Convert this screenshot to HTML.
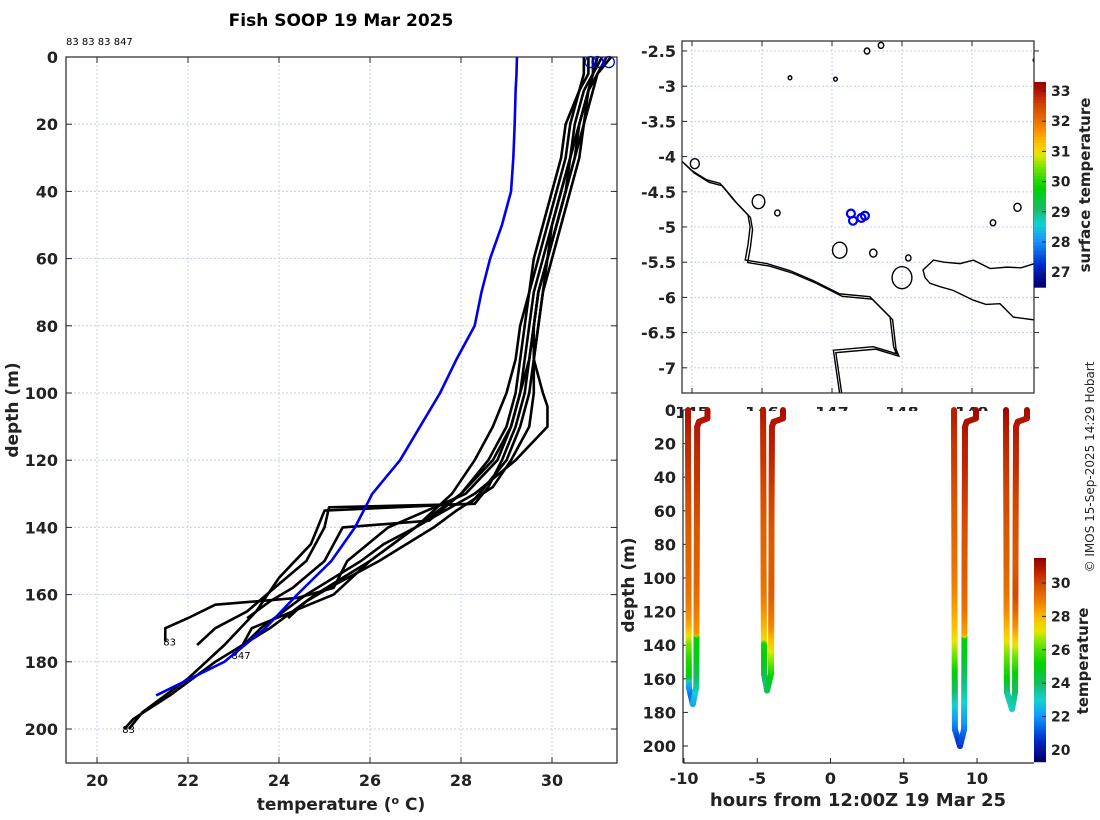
<!DOCTYPE html>
<html><head><meta charset="utf-8">
<style>
body{margin:0;background:#fff;}
svg{display:block;font-family:"DejaVu Sans","Liberation Sans",sans-serif;}
.tk{font-size:16px;font-weight:bold;fill:#222;}
.lb{font-size:17px;font-weight:bold;fill:#222;}
</style></head><body>
<svg id="fig" width="1100" height="820" viewBox="0 0 1100 820">
<rect width="1100" height="820" fill="#fff"/>
<g id="left"></g>
<g id="map"></g>
<g id="bot"></g>
<text x="341" y="26" text-anchor="middle" style="font-size:17px;font-weight:bold">Fish SOOP 19 Mar 2025</text>
<text x="66" y="45" style="font-size:10px">83 83 83 847</text>
<text transform="translate(18,410) rotate(-90)" text-anchor="middle" class="lb">depth (m)</text>
<text x="341" y="810" text-anchor="middle" class="lb">temperature (<tspan dy="-6" font-size="11">o</tspan><tspan dy="6"> C)</tspan></text>
<text transform="translate(1094,467) rotate(-90)" text-anchor="middle" style="font-size:12px;fill:#262626">© IMOS 15-Sep-2025 14:29 Hobart</text>
</svg>
<script>
// ---------- data ----------
const xTicks=[20,22,24,26,28,30];
const dTicks=[0,20,40,60,80,100,120,140,160,180,200];
const climDepth=[0,5,10,20,30,40,50,60,70,80,90,100,110,120,130,140,150,160,170,180,190];
const climTemp=[29.23,29.22,29.2,29.18,29.15,29.1,28.9,28.64,28.45,28.3,27.9,27.54,27.1,26.66,26.05,25.67,25.15,24.4,23.7,22.8,21.3];
const profDepths=[
[0,5,10,20,30,40,50,60,70,80,90,100,110,120,130,140,150,158,161,163,167,170,174],
[0,5,10,20,30,40,50,60,70,80,90,100,110,120,128,133,134,140,150,158,165,170,175],
[0,5,10,20,30,40,50,60,70,80,90,100,110,120,130,138,140,150,158,162,167],
[0,5,10,20,30,40,50,60,70,80,90,100,110,120,128,135,140,150,158,162,167],
[0,5,10,20,30,40,50,60,70,80,90,100,110,120,130,140,150,160,170,180,190,197,200],
[0,5,10,20,30,40,50,60,70,80,90,100,110,120,130,133,135,145,155,165,175,185,195,200],
[0,5,10,20,30,40,50,60,70,80,90,100,110,120,130,140,150,160,165,170,175,178],
[0,5,10,20,30,40,50,60,70,80,90,100,104,110,120,130,140,145,150,160,170,178]];
const profTemps=[
[30.9,30.9,30.7,30.5,30.4,30.2,30.0,29.8,29.6,29.5,29.4,29.3,29.1,28.8,28.1,26.4,25.5,25.2,24.4,22.6,22.0,21.5,21.5],
[31.0,30.9,30.8,30.6,30.4,30.3,30.1,29.9,29.7,29.6,29.5,29.4,29.2,28.9,28.6,28.3,25.1,25.0,24.6,23.9,23.3,22.6,22.2],
[30.8,30.8,30.6,30.4,30.3,30.1,29.9,29.7,29.5,29.4,29.3,29.2,29.0,28.6,28.0,27.3,25.4,25.0,24.3,23.8,23.3],
[31.0,30.9,30.8,30.7,30.5,30.3,30.1,29.9,29.7,29.6,29.6,29.6,29.5,29.1,28.7,27.9,27.4,26.2,25.1,24.6,24.2],
[30.7,30.7,30.6,30.3,30.2,30.0,29.8,29.6,29.5,29.3,29.2,29.0,28.7,28.3,27.8,27.0,26.0,24.8,23.8,22.6,21.6,20.8,20.6],
[31.2,31.0,30.9,30.7,30.6,30.4,30.2,30.0,29.8,29.7,29.6,29.5,29.3,29.0,28.4,28.2,25.0,24.7,24.0,23.5,22.8,22.0,21.0,20.7],
[31.3,31.0,30.8,30.6,30.4,30.2,30.0,29.9,29.7,29.6,29.5,29.3,29.1,28.7,28.0,27.0,26.0,25.2,24.3,23.4,23.2,23.0],
[31.1,30.9,30.8,30.6,30.5,30.3,30.1,29.9,29.8,29.7,29.6,29.8,29.9,29.9,29.2,28.3,27.0,26.3,25.8,24.6,23.6,23.0]];
const endLabels=["83","","","","83","","847",""];
const surfTemps=[30.85,31.0,31.25];
const lonTicks=[145,146,147,148,149];
const latTicks=[-2.5,-3,-3.5,-4,-4.5,-5,-5.5,-6,-6.5,-7];
const shipLon=[147.27,147.30,147.42,147.47];
const shipLat=[-4.81,-4.91,-4.87,-4.84];
const coastLon=[144.86,145.0,145.21,145.40,145.6,145.80,145.83,145.80,145.76,146.07,146.4,146.73,147.11,147.54,147.83,147.88,147.92,147.59,147.02,147.11];
const coastLat=[-4.07,-4.2,-4.33,-4.38,-4.62,-4.83,-5.0,-5.25,-5.47,-5.52,-5.62,-5.76,-5.95,-5.99,-6.28,-6.70,-6.80,-6.70,-6.75,-7.37];
const nbLon=[149.89,149.70,149.50,149.26,149.02,148.83,148.6,148.45,148.30,148.33,148.40,148.55,148.73,149.02,149.2,149.40,149.59,149.89];
const nbLat=[-5.52,-5.58,-5.57,-5.59,-5.47,-5.52,-5.5,-5.47,-5.61,-5.72,-5.80,-5.85,-5.90,-6.04,-6.1,-6.09,-6.28,-6.32];
const islLon=[145.04,145.95,146.22,147.11,147.59,148.0,148.09,149.65,149.3,146.4,147.05,149.9,147.5,147.7];
const islLat=[-4.10,-4.64,-4.80,-5.33,-5.37,-5.72,-5.44,-4.72,-4.94,-2.88,-2.9,-2.63,-2.5,-2.42];
const islR=[5,7,3,8,4,11,3,4,3,2,2,2,3,3];
const mapCbTicks=[27,28,29,30,31,32,33];
const hTicks=[-10,-5,0,5,10];
const bdTicks=[0,20,40,60,80,100,120,140,160,180,200];
const cbTicks=[20,22,24,26,28,30];
const diveStart=[-9.73,-4.6,8.43,11.98];
const diveBottom=[-9.4,-4.33,8.84,12.39];
const diveUp=[-9.1,-4.0,9.18,12.66];
const diveEnd=[-8.4,-3.24,9.93,13.41];
const diveMax=[175,167,200,178];

// ---------- helpers ----------
const NS="http://www.w3.org/2000/svg";
function mk(parent,tag,at){const e=document.createElementNS(NS,tag);for(const k in at)e.setAttribute(k,at[k]);parent.appendChild(e);return e;}
const cmStops=[[0,0,0,112],[0.1,0,40,200],[0.22,20,150,255],[0.3,20,210,210],[0.38,20,190,100],[0.48,0,210,0],[0.58,120,230,0],[0.64,230,230,0],[0.7,255,190,0],[0.78,240,130,0],[0.88,210,70,0],[0.95,180,20,0],[1,140,0,0]];
function jet(v){v=Math.max(0,Math.min(1,v));for(let i=1;i<cmStops.length;i++){if(v<=cmStops[i][0]){const a=cmStops[i-1],b=cmStops[i];const f=(v-a[0])/(b[0]-a[0]);return `rgb(${a[1]+f*(b[1]-a[1])|0},${a[2]+f*(b[2]-a[2])|0},${a[3]+f*(b[3]-a[3])|0})`;}}return 'rgb(140,0,0)';}
function interp(ds,ts,d){if(d<=ds[0])return ts[0];for(let i=1;i<ds.length;i++){if(d<=ds[i]){const f=(d-ds[i-1])/(ds[i]-ds[i-1]);return ts[i-1]+f*(ts[i]-ts[i-1]);}}return ts[ts.length-1];}
const grid="#c6cdeb";

// ---------- left profile plot ----------
const L=document.getElementById('left');
const xT=t=>97+(t-20)*45.5, yD=d=>57+d*3.36;
const LX0=66,LX1=617,LY0=57,LY1=763;
xTicks.forEach(t=>{let e=mk(L,'line',{x1:xT(t),x2:xT(t),y1:LY0,y2:LY1,stroke:grid,'stroke-dasharray':'2,2'});

mk(L,'line',{x1:xT(t),x2:xT(t),y1:LY1,y2:LY1-6,stroke:'#262626'});mk(L,'line',{x1:xT(t),x2:xT(t),y1:LY0,y2:LY0+6,stroke:'#262626'});
let tx=mk(L,'text',{x:xT(t),y:786,'text-anchor':'middle',class:'tk'});tx.textContent=t;
});
dTicks.forEach(d=>{let e=mk(L,'line',{x1:LX0,x2:LX1,y1:yD(d),y2:yD(d),stroke:grid,'stroke-dasharray':'2,2'});

mk(L,'line',{x1:LX0,x2:LX0+6,y1:yD(d),y2:yD(d),stroke:'#262626'});mk(L,'line',{x1:LX1,x2:LX1-6,y1:yD(d),y2:yD(d),stroke:'#262626'});
let tx=mk(L,'text',{x:58,y:yD(d)+6,'text-anchor':'end',class:'tk'});tx.textContent=d;
});
profDepths.forEach((ds,i)=>{const pts=ds.map((d,j)=>xT(profTemps[i][j])+','+yD(d)).join(' ');
let p=mk(L,'polyline',{points:pts,fill:'none',stroke:'#000','stroke-width':2.6,'stroke-linejoin':'round'});

if(endLabels[i]){const n=ds.length-1;let t=mk(L,'text',{x:xT(profTemps[i][n])-2,y:yD(ds[n])+4,style:'font-size:10px'});t.textContent=endLabels[i];
}});
{let p=mk(L,'polyline',{points:climDepth.map((d,j)=>xT(climTemp[j])+','+yD(d)).join(' '),fill:'none',stroke:'#0000ee','stroke-width':2.6});
}
surfTemps.forEach(t=>{let c=mk(L,'circle',{cx:xT(t),cy:yD(1.5),r:5.5,fill:'none',stroke:'#0000ee','stroke-width':1.3});
});
mk(L,'rect',{x:LX0,y:LY0,width:LX1-LX0,height:LY1-LY0,fill:'none',stroke:'#262626','stroke-width':1.2});

// ---------- map ----------
const M=document.getElementById('map');
const lonX=l=>692+(l-145)*70, latY=a=>51+(-2.5-a)*70.4;
const MX0=682,MX1=1034,MY0=41,MY1=393;
lonTicks.forEach(l=>{let e=mk(M,'line',{x1:lonX(l),x2:lonX(l),y1:MY0,y2:MY1,stroke:grid,'stroke-dasharray':'2,2'});

mk(M,'line',{x1:lonX(l),x2:lonX(l),y1:MY1,y2:MY1-5,stroke:'#262626'});mk(M,'line',{x1:lonX(l),x2:lonX(l),y1:MY0,y2:MY0+5,stroke:'#262626'});
let tx=mk(M,'text',{x:lonX(l),y:418,'text-anchor':'middle',class:'tk'});tx.textContent=l;
});
latTicks.forEach(a=>{let e=mk(M,'line',{x1:MX0,x2:MX1,y1:latY(a),y2:latY(a),stroke:grid,'stroke-dasharray':'2,2'});

mk(M,'line',{x1:MX0,x2:MX0+5,y1:latY(a),y2:latY(a),stroke:'#262626'});mk(M,'line',{x1:MX1,x2:MX1+5,y1:latY(a),y2:latY(a),stroke:'#262626'});
let tx=mk(M,'text',{x:676,y:latY(a)+6,'text-anchor':'end',class:'tk'});tx.textContent=a;
});
const clip=mk(M,'clipPath',{id:'mclip'});mk(clip,'rect',{x:MX0,y:MY0,width:MX1-MX0,height:MY1-MY0});
const MG=mk(M,'g',{'clip-path':'url(#mclip)'});
[0,0.035].forEach(o=>{let p=mk(MG,'polyline',{points:coastLon.map((l,i)=>lonX(l+o)+','+latY(coastLat[i]-o)).join(' '),fill:'none',stroke:'#000','stroke-width':1.4});
});
{let p=mk(MG,'polyline',{points:nbLon.map((l,i)=>lonX(l)+','+latY(nbLat[i])).join(' '),fill:'none',stroke:'#000','stroke-width':1.4});
}
islLon.forEach((l,i)=>{let c=mk(MG,'ellipse',{cx:lonX(l),cy:latY(islLat[i]),rx:islR[i]*0.9,ry:islR[i],fill:'none',stroke:'#000','stroke-width':1.4});
});
shipLon.forEach((l,i)=>{let c=mk(MG,'circle',{cx:lonX(l),cy:latY(shipLat[i]),r:4,fill:'none',stroke:'#0000ee','stroke-width':2.2});
});
mk(M,'rect',{x:MX0,y:MY0,width:MX1-MX0,height:MY1-MY0,fill:'none',stroke:'#262626','stroke-width':1.2});
const mY=t=>91+(33-t)*30.2;
for(let t=26.5;t<33.3;t+=0.1){mk(M,'rect',{x:1034,y:mY(t+0.1),width:12,height:3.4,fill:jet((t-26.5)/6.8)});}
mapCbTicks.forEach(t=>{mk(M,'line',{x1:1046,x2:1042,y1:mY(t),y2:mY(t),stroke:'#262626'});
let tx=mk(M,'text',{x:1051,y:mY(t)+5,class:'tk',style:'font-size:14px'});tx.textContent=t;
});
{let t=mk(M,'text',{transform:'translate(1090,185) rotate(-90)','text-anchor':'middle',class:'lb',style:'font-size:15px'});t.textContent='surface temperature';
}

// ---------- bottom time-depth ----------
const B=document.getElementById('bot');
const hX=h=>684+(h+10)*14.65, dY=d=>410+d*1.68;
const BX0=683,BX1=1034,BY0=410,BY1=763;
mk(B,'rect',{x:640,y:405,width:BX1-640,height:2,fill:'#fff'});
mk(B,'rect',{x:BX0,y:411,width:BX1-BX0,height:BY1-411,fill:'#fff'});
hTicks.forEach(h=>{mk(B,'line',{x1:hX(h),x2:hX(h),y1:BY1,y2:BY1-5,stroke:'#262626'});
let tx=mk(B,'text',{x:hX(h),y:784,'text-anchor':'middle',class:'tk'});tx.textContent=h;
});
bdTicks.forEach(d=>{mk(B,'line',{x1:BX0,x2:BX0+5,y1:dY(d),y2:dY(d),stroke:'#262626'});
let tx=mk(B,'text',{x:676,y:dY(d)+6,'text-anchor':'end',class:'tk'});tx.textContent=d;
});
mk(B,'line',{x1:BX0,x2:BX0,y1:BY0,y2:BY1,stroke:'#262626','stroke-width':1.2});
mk(B,'line',{x1:BX0,x2:BX1,y1:BY1,y2:BY1,stroke:'#262626','stroke-width':1.2});
const cbY=t=>583+(30-t)*16.7;
diveStart.forEach((t0,k)=>{const g=mk(B,'g',{});

const tb=diveBottom[k],md=diveMax[k],tu=diveUp[k];
const segs=[[t0,0,t0+0.06,md-10,2*k],[t0+0.06,md-10,tb,md,2*k],
[tb,md,tu-0.06,md-10,2*k+1],[tu-0.06,md-10,tu,10,2*k+1],
[tu,10,tu+0.12,7,2*k+1],[tu+0.12,7,diveEnd[k],5,2*k+1],[diveEnd[k],5,diveEnd[k],0,2*k+1]];
segs.forEach(s=>{const n=Math.max(4,Math.ceil(Math.hypot(hX(s[2])-hX(s[0]),dY(s[3])-dY(s[1]))));
for(let i=0;i<=n;i++){const f=i/n;const h=s[0]+f*(s[2]-s[0]);const d=s[1]+f*(s[3]-s[1]);
const T=interp(profDepths[s[4]],profTemps[s[4]],d);
mk(g,'circle',{cx:hX(h),cy:dY(d),r:3,fill:jet((T-19.3)/(31.5-19.3))});}});});
for(let t=19.3;t<31.5;t+=0.1){mk(B,'rect',{x:1034,y:cbY(t+0.1),width:12,height:2.2,fill:jet((t-19.3)/12.2)});}
cbTicks.forEach(t=>{mk(B,'line',{x1:1046,x2:1042,y1:cbY(t),y2:cbY(t),stroke:'#262626'});
let tx=mk(B,'text',{x:1051,y:cbY(t)+5,class:'tk',style:'font-size:14px'});tx.textContent=t;
});
{let t=mk(B,'text',{transform:'translate(1088,661) rotate(-90)','text-anchor':'middle',class:'lb',style:'font-size:15px'});t.textContent='temperature';
}
{let t=mk(B,'text',{transform:'translate(634,585) rotate(-90)','text-anchor':'middle',class:'lb'});t.textContent='depth (m)';
}
{let t=mk(B,'text',{x:858,y:806,'text-anchor':'middle',class:'lb',style:'font-size:18px'});t.textContent='hours from 12:00Z 19 Mar 25';
}
</script>
</body></html>
